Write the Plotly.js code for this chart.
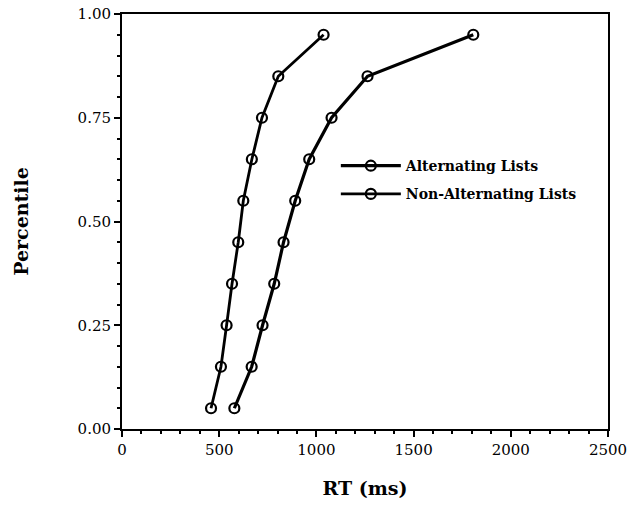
<!DOCTYPE html>
<html>
<head>
<meta charset="utf-8">
<script src="https://cdn.plot.ly/plotly-3.0.1.min.js"></script>
<style>html,body{margin:0;padding:0;background:#fff}#chart{width:635px;height:508px}</style>
</head>
<body>
<div id="chart"></div>
<script>
const percentiles = [0.05, 0.15, 0.25, 0.35, 0.45, 0.55, 0.65, 0.75, 0.85, 0.95];
const rtAlternating = [578, 667, 723, 783, 831, 891, 963, 1078, 1263, 1807];
const rtNonAlternating = [458, 509, 538, 566, 598, 624, 668, 720, 804, 1037];
const seriesNames = ["Alternating Lists", "Non-Alternating Lists"];
const xTicks = [0, 500, 1000, 1500, 2000, 2500];
const xTickText = ["0", "500", "1000", "1500", "2000", "2500"];
const yTicks = [0, 0.25, 0.5, 0.75, 1];
const yTickText = ["0.00", "0.25", "0.50", "0.75", "1.00"];

const serif = "DejaVu Serif, Liberation Serif, serif";
const marker = {symbol: "circle-open", size: 10, color: "#000", line: {width: 2.2, color: "#000"}};

const traces = [
  {x: rtAlternating, y: percentiles, name: seriesNames[0], legendgroup: "a", type: "scatter", mode: "lines+markers",
   line: {color: "#000", width: 3.2}, marker: marker},
  {x: rtNonAlternating, y: percentiles, name: seriesNames[1], legendgroup: "b", type: "scatter", mode: "lines+markers",
   line: {color: "#000", width: 2.8}, marker: marker}
];

const layout = {
  width: 635, height: 508,
  margin: {l: 122, r: 27, t: 14, b: 79},
  paper_bgcolor: "#fff", plot_bgcolor: "#fff",
  font: {family: serif, color: "#000", size: 14},
  showlegend: true,
  legend: {x: 0.44, y: 0.672, xanchor: "left", yanchor: "top", bgcolor: "rgba(0,0,0,0)",
           font: {family: serif, size: 14, weight: "bold", color: "#000"}, itemwidth: 60, tracegroupgap: 7},
  xaxis: {
    range: [0, 2500], tickvals: xTicks, ticktext: xTickText,
    showgrid: false, zeroline: false, showline: true, linecolor: "#000", linewidth: 2, mirror: true,
    ticks: "outside", ticklen: 6, tickwidth: 2, tickcolor: "#000",
    minor: {dtick: 100, ticks: "outside", ticklen: 3, tickwidth: 2, tickcolor: "#000", showgrid: false},
    tickfont: {family: serif, size: 15},
    title: {text: "RT (ms)", font: {family: serif, size: 19, weight: "bold"}, standoff: 24}
  },
  yaxis: {
    range: [0, 1], tickvals: yTicks, ticktext: yTickText,
    showgrid: false, zeroline: false, showline: true, linecolor: "#000", linewidth: 2, mirror: true,
    ticks: "outside", ticklen: 6, tickwidth: 2, tickcolor: "#000",
    minor: {dtick: 0.05, ticks: "outside", ticklen: 3, tickwidth: 2, tickcolor: "#000", showgrid: false},
    tickfont: {family: serif, size: 15},
    title: {text: "Percentile", font: {family: serif, size: 19, weight: "bold"}, standoff: 44}
  }
};

Plotly.newPlot("chart", traces, layout, {displayModeBar: false, staticPlot: true});
</script>
</body>
</html>
